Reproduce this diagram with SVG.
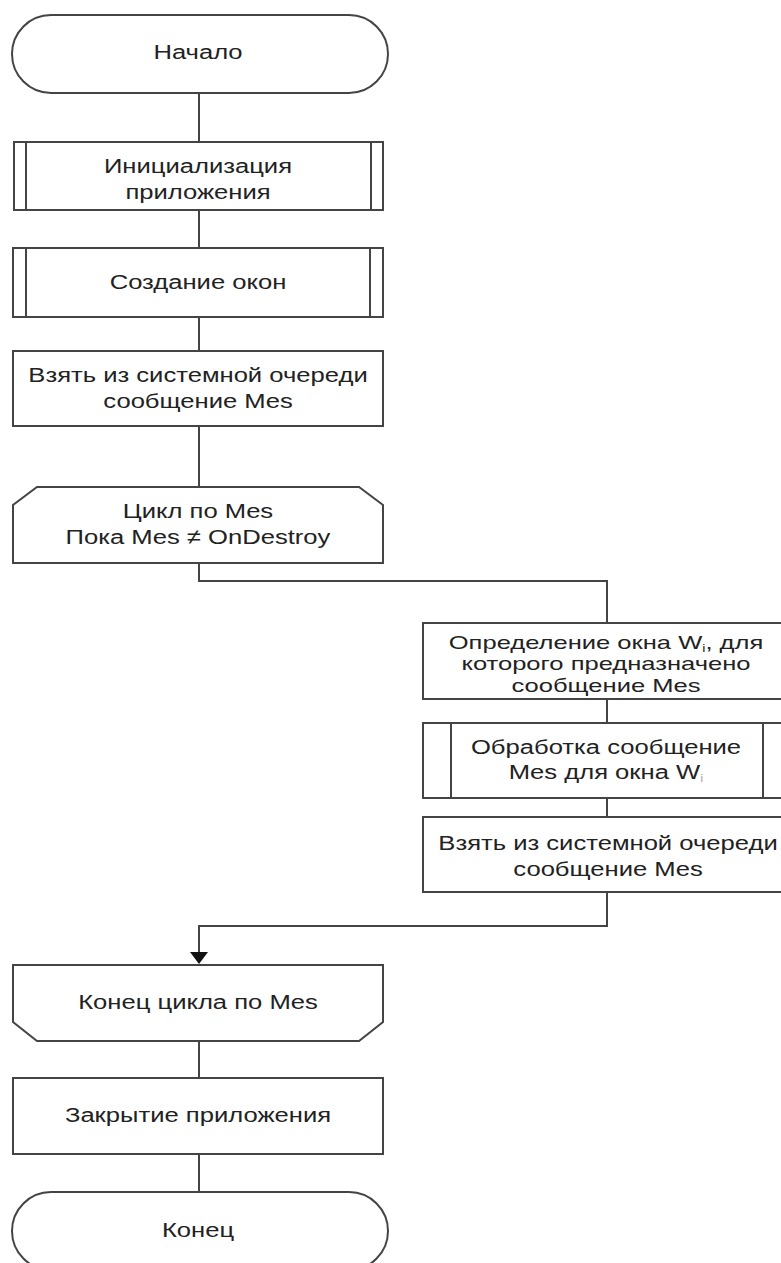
<svg xmlns="http://www.w3.org/2000/svg" width="781" height="1263" viewBox="0 0 781 1263">
<defs>
<style>
.s{fill:#fff;stroke:#444;stroke-width:2}
.l{fill:none;stroke:#444;stroke-width:2}
.t{font-family:"Liberation Sans",Arial,sans-serif;font-size:21px;fill:#222;text-anchor:middle}
.ts{font-size:18px}
</style>
</defs>
<rect width="781" height="1263" fill="#fff"/>
<g id="connectors">
<path class="l" d="M199,93 V142"/>
<path class="l" d="M199,210 V248"/>
<path class="l" d="M199,317 V351"/>
<path class="l" d="M199,426 V487"/>
<path class="l" d="M199,563 V581 H607 V623"/>
<path class="l" d="M607,699 V723"/>
<path class="l" d="M607,798 V817"/>
<path class="l" d="M607,892 V926 H199 V952"/>
<path d="M190,952 L208,952 L199,964 Z" fill="#111"/>
<path class="l" d="M199,1041 V1078"/>
<path class="l" d="M199,1154 V1192"/>
</g>
<g id="start">
<rect class="s" x="12" y="15" width="376" height="78" rx="39" ry="39"/>
<text class="t" transform="translate(198,59) scale(1.22,1)">Начало</text>
</g>
<g id="init">
<rect class="s" x="14" y="142" width="369" height="68"/>
<path class="l" d="M26,142 V210 M371,142 V210"/>
<text class="t" transform="translate(198,173) scale(1.22,1)">Инициализация</text>
<text class="t" transform="translate(198,199) scale(1.22,1)">приложения</text>
</g>
<g id="create">
<rect class="s" x="13" y="248" width="370" height="69"/>
<path class="l" d="M26,248 V317 M370,248 V317"/>
<text class="t" transform="translate(198,289) scale(1.22,1)">Создание окон</text>
</g>
<g id="take1">
<rect class="s" x="13" y="351" width="370" height="75"/>
<text class="t" transform="translate(198,382) scale(1.22,1)">Взять из системной очереди</text>
<text class="t" transform="translate(198,408) scale(1.22,1)">сообщение Mes</text>
</g>
<g id="loopStart">
<polygon class="s" points="37,487 359,487 383,505 383,563 13,563 13,505"/>
<text class="t" transform="translate(198,518) scale(1.22,1)">Цикл по Mes</text>
<text class="t" transform="translate(198,544) scale(1.22,1)">Пока Mes ≠ OnDestroy</text>
</g>
<g id="define">
<rect class="s" x="423" y="623" width="368" height="76"/>
<text class="t ts" transform="translate(606,649) scale(1.42,1)">Определение окна W<tspan font-size="10" dy="3">i</tspan><tspan dy="-3">, для</tspan></text>
<text class="t ts" transform="translate(606,670) scale(1.42,1)">которого предназначено</text>
<text class="t ts" transform="translate(606,692) scale(1.42,1)">сообщение Mes</text>
</g>
<g id="process">
<rect class="s" x="423" y="723" width="368" height="75"/>
<path class="l" d="M451,723 V798 M763,723 V798"/>
<text class="t" transform="translate(606,754) scale(1.22,1)">Обработка сообщение</text>
<text class="t" transform="translate(606,779) scale(1.22,1)">Mes для окна W<tspan font-size="11" dy="3" fill="#aaa">i</tspan></text>
</g>
<g id="take2">
<rect class="s" x="423" y="817" width="368" height="75"/>
<text class="t" transform="translate(608,850) scale(1.22,1)">Взять из системной очереди</text>
<text class="t" transform="translate(608,876) scale(1.22,1)">сообщение Mes</text>
</g>
<g id="loopEnd">
<polygon class="s" points="13,965 383,965 383,1022 359,1041 37,1041 13,1022"/>
<text class="t" transform="translate(198,1009) scale(1.22,1)">Конец цикла по Mes</text>
</g>
<g id="close">
<rect class="s" x="13" y="1078" width="370" height="76"/>
<text class="t" transform="translate(198,1122) scale(1.22,1)">Закрытие приложения</text>
</g>
<g id="end">
<rect class="s" x="12" y="1192" width="376" height="78" rx="39" ry="39"/>
<text class="t" transform="translate(198,1237) scale(1.22,1)">Конец</text>
</g>
</svg>
